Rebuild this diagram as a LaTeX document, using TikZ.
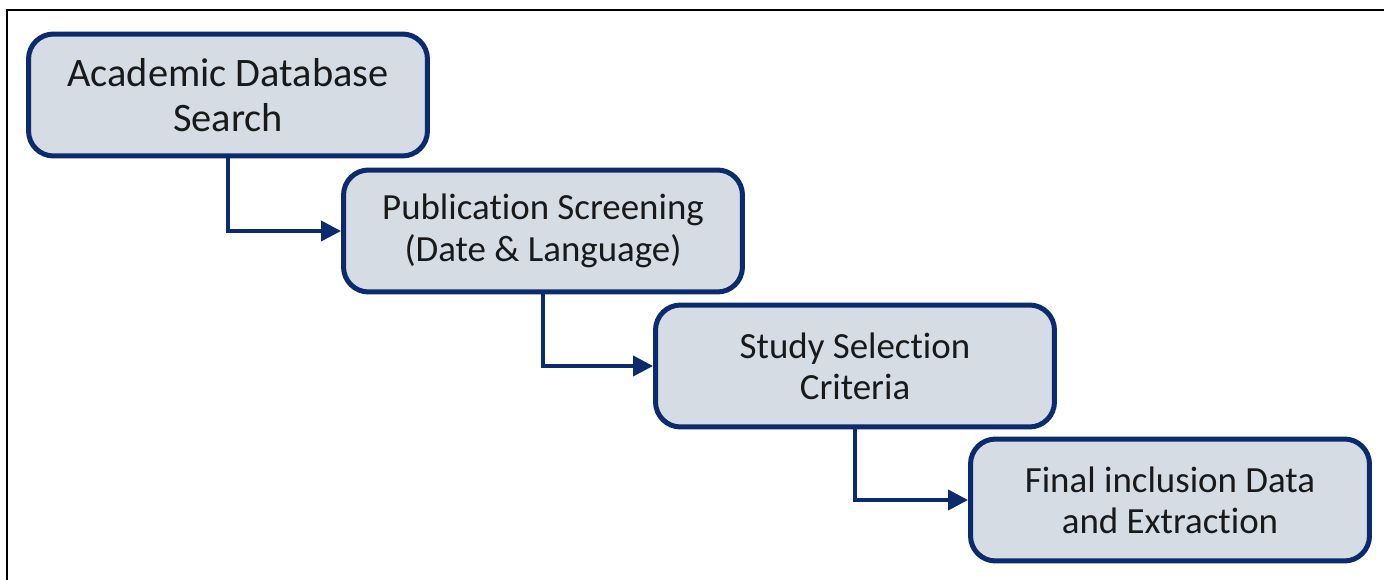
\documentclass[tikz,border=0pt]{standalone}
\usepackage{fontspec}
\setmainfont{Carlito}[Ligatures=NoCommon]
\usetikzlibrary{arrows.meta,positioning}
\definecolor{stepline}{HTML}{0C2A6E}
\definecolor{stepfill}{HTML}{D6DCE4}
\tikzset{
	>={Triangle[length=0.4cm,width=0.4cm]},
	stepbox/.style={draw=stepline, fill=stepfill, line width=0.1cm,
		rounded corners=0.5cm, minimum width=7.98cm, minimum height=2.44cm,
		align=center, font=\fontsize{21}{23.5}\selectfont, text=black!90},
	bigtext/.style={font=\fontsize{23}{25.8}\selectfont},
	flow/.style={->, draw=stepline, line width=0.075cm}
}
\begin{document}
\begin{tikzpicture}[x=0.02cm,y=-0.02cm]
		\useasboundingbox (0,0) rectangle (1384,580);
		% frame
		\draw[line width=0.04cm] (1384,10) -- (7,10) -- (7,580);
		
		% steps
		\node[stepbox,bigtext] (search) at (228,95) {Academic Database\\Search};
		\node[stepbox] (screen) at (543,231) {Publication Screening\\(Date \& Language)};
		\node[stepbox] (select) at (855,366) {Study Selection\\Criteria};
		\node[stepbox] (final) at (1170,500) {Final inclusion Data\\and Extraction};
		
		% connectors
		\draw[flow] (search.south) |- (screen.west);
		\draw[flow] (screen.south) |- (select.west);
		\draw[flow] (select.south) |- (final.west);
	\end{tikzpicture}
\end{document}
